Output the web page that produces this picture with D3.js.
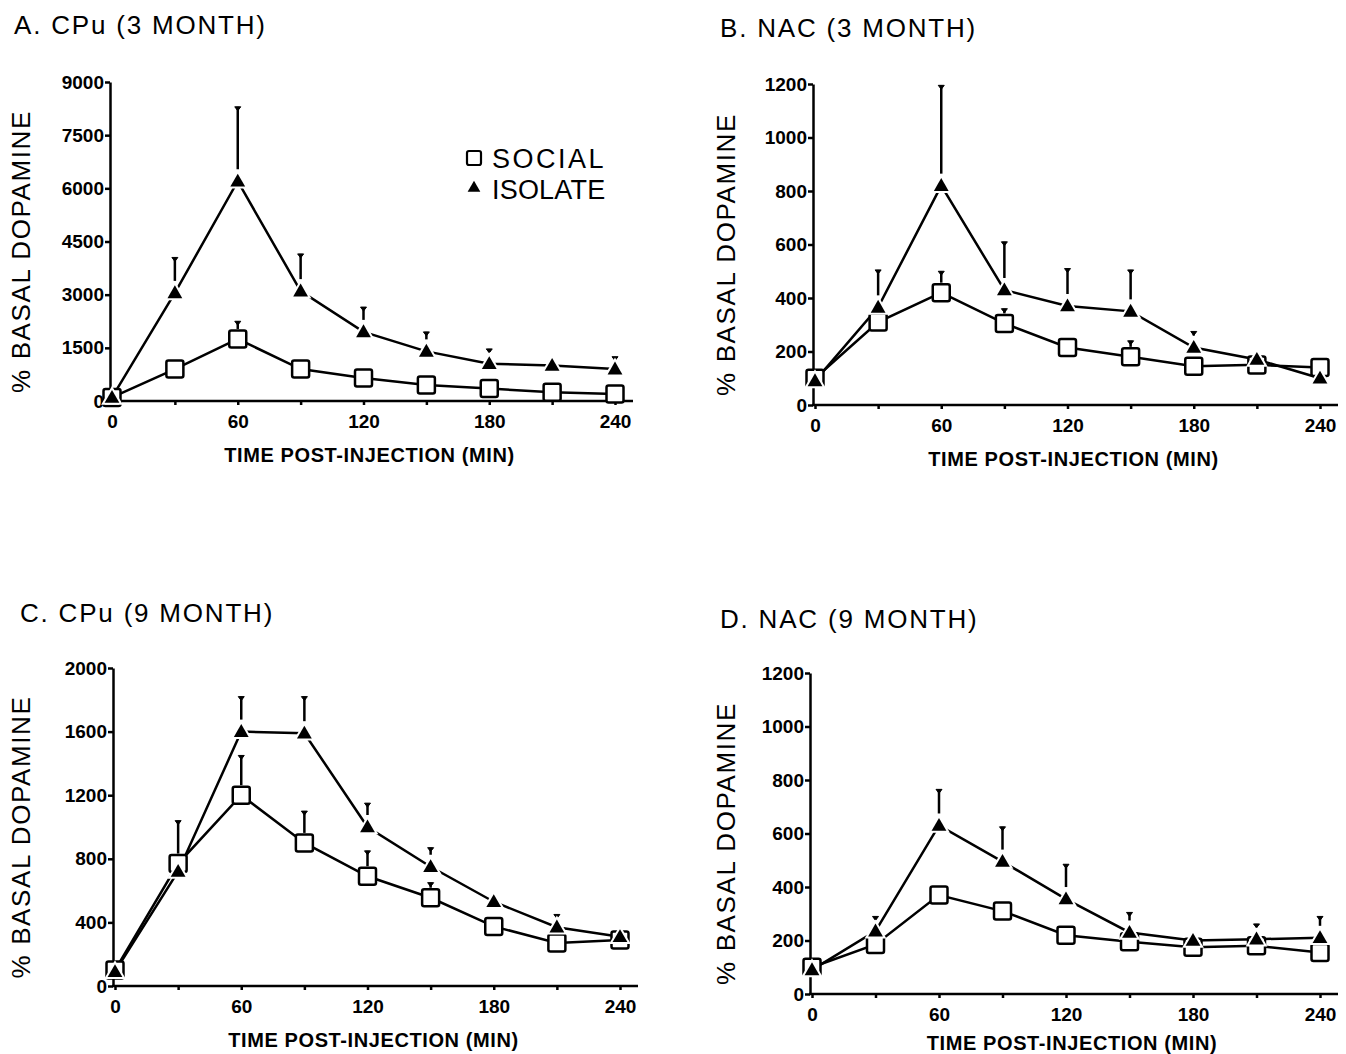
<!DOCTYPE html>
<html>
<head>
<meta charset="utf-8">
<script src="https://cdn.jsdelivr.net/npm/d3@7"></script>
<style>
  body { margin: 0; background: #fff; }
  text { font-family: "Liberation Sans", Arial, sans-serif; fill: #000; }
  .tick text { font-weight: bold; font-size: 19px; font-family: "Liberation Sans Narrow", "Liberation Sans", Arial, sans-serif; }
  .domain, .tick line { stroke: #000; stroke-width: 2.5; }
</style>
</head>
<body>
<div id="chart"></div>
<script>
var svgWidth = 1346;
var svgHeight = 1054;

// time points (min)
var times = [0, 30, 60, 90, 120, 150, 180, 210, 240];
var xTicks = [0, 60, 120, 180, 240];

// A. CPu (3 month)
var cpu3Social     = [100, 900, 1750, 900, 650, 450, 350, 250, 200];
var cpu3SocialErr  = [0, 0, 500, 0, 0, 0, 0, 0, 0];
var cpu3Isolate    = [100, 3050, 6200, 3100, 1950, 1400, 1050, 1000, 900];
var cpu3IsolateErr = [0, 1000, 2100, 1050, 700, 550, 420, 0, 350];
var cpu3Ticks = [0, 1500, 3000, 4500, 6000, 7500, 9000];

// B. NAC (3 month)
var nac3Social     = [100, 310, 420, 305, 215, 180, 145, 150, 140];
var nac3SocialErr  = [0, 0, 80, 55, 0, 60, 0, 0, 0];
var nac3Isolate    = [90, 365, 820, 430, 370, 350, 215, 170, 100];
var nac3IsolateErr = [0, 140, 375, 180, 140, 155, 60, 0, 0];
var nac3Ticks = [0, 200, 400, 600, 800, 1000, 1200];

// C. CPu (9 month)
var cpu9Social     = [100, 770, 1200, 900, 690, 555, 375, 270, 290];
var cpu9SocialErr  = [0, 270, 250, 200, 160, 95, 0, 0, 0];
var cpu9Isolate    = [90, 720, 1600, 1590, 1000, 750, 530, 370, 310];
var cpu9IsolateErr = [0, 0, 220, 230, 150, 120, 0, 80, 0];
var cpu9Ticks = [0, 400, 800, 1200, 1600, 2000];

// D. NAC (9 month)
var nac9Social     = [100, 185, 370, 310, 220, 195, 175, 180, 155];
var nac9SocialErr  = [0, 0, 0, 0, 0, 0, 0, 0, 0];
var nac9Isolate    = [90, 235, 630, 495, 355, 230, 200, 205, 210];
var nac9IsolateErr = [0, 55, 135, 130, 130, 75, 0, 57, 80];
var nac9Ticks = [0, 200, 400, 600, 800, 1000, 1200];

var svg = d3.select("#chart")
  .append("svg")
  .attr("width", svgWidth)
  .attr("height", svgHeight);

var panels = [
  { title: "A. CPu (3 MONTH)", tx: 14, ty: 34, x0: 112, x1: 615, y0: 401, y1: 82,
    ticks: cpu3Ticks, social: cpu3Social, sErr: cpu3SocialErr, iso: cpu3Isolate, iErr: cpu3IsolateErr,
    yLabelX: 30, xLabelY: 462, legend: true },
  { title: "B. NAC (3 MONTH)", tx: 720, ty: 37, x0: 815, x1: 1320, y0: 405, y1: 84,
    ticks: nac3Ticks, social: nac3Social, sErr: nac3SocialErr, iso: nac3Isolate, iErr: nac3IsolateErr,
    yLabelX: 735, xLabelY: 466 },
  { title: "C. CPu (9 MONTH)", tx: 20, ty: 622, x0: 115, x1: 620, y0: 986, y1: 668,
    ticks: cpu9Ticks, social: cpu9Social, sErr: cpu9SocialErr, iso: cpu9Isolate, iErr: cpu9IsolateErr,
    yLabelX: 30, xLabelY: 1047 },
  { title: "D. NAC (9 MONTH)", tx: 720, ty: 628, x0: 812, x1: 1320, y0: 994, y1: 673,
    ticks: nac9Ticks, social: nac9Social, sErr: nac9SocialErr, iso: nac9Isolate, iErr: nac9IsolateErr,
    yLabelX: 735, xLabelY: 1050 }
];

var triangle = d3.symbol().type(d3.symbolTriangle).size(95);

panels.forEach(function(p) {
  var yMax = d3.max(p.ticks);
  var xScale = d3.scaleLinear().domain([0, 240]).range([p.x0, p.x1]);
  var yScale = d3.scaleLinear().domain([0, yMax]).range([p.y0, p.y1]);

  var g = svg.append("g");

  // title
  g.append("text")
    .attr("x", p.tx)
    .attr("y", p.ty)
    .attr("font-size", "26px")
    .attr("letter-spacing", "1.8px")
    .text(p.title);

  // x axis (small ticks every 30 min, labels at 60)
  var xAxis = g.append("g")
    .attr("transform", `translate(0, ${p.y0})`)
    .call(d3.axisBottom(xScale).tickValues(times).tickSize(4).tickSizeOuter(0)
      .tickFormat(d => xTicks.indexOf(d) >= 0 ? d : ""));
  xAxis.select(".domain").attr("d", `M${p.x0 - 3},0H${p.x1 + 18}`);
  xAxis.selectAll(".tick text").attr("dy", "1.05em");

  // y axis
  var yAxis = g.append("g")
    .attr("transform", `translate(${p.x0 - 2}, 0)`)
    .call(d3.axisLeft(yScale).tickValues(p.ticks).tickSize(5).tickSizeOuter(0)
      .tickFormat(d3.format("d")));
  yAxis.selectAll(".tick text").attr("x", -6);

  // axis labels
  g.append("text")
    .attr("transform", `translate(${p.yLabelX}, ${(p.y0 + p.y1) / 2 + 10}) rotate(-90)`)
    .attr("text-anchor", "middle")
    .attr("font-size", "26px")
    .attr("letter-spacing", "1.6px")
    .text("% BASAL DOPAMINE");

  g.append("text")
    .attr("x", (p.x0 + p.x1) / 2 + 6)
    .attr("y", p.xLabelY)
    .attr("text-anchor", "middle")
    .attr("font-size", "20px")
    .attr("font-weight", "bold")
    .attr("letter-spacing", "0.6px")
    .text("TIME POST-INJECTION (MIN)");

  var line = d3.line()
    .x((d, i) => xScale(times[i]))
    .y(d => yScale(d));

  // error bars (upper only)
  function errBars(vals, errs, off) {
    var eg = g.append("g");
    vals.forEach(function(v, i) {
      if (!errs[i]) return;
      var x = xScale(times[i]);
      eg.append("line")
        .attr("x1", x).attr("x2", x)
        .attr("y1", yScale(v) - off).attr("y2", yScale(v + errs[i]))
        .attr("stroke", "#000").attr("stroke-width", 2.5);
      eg.append("path")
        .attr("d", `M${x - 3},${yScale(v + errs[i])}h6l-3,4z`)
        .attr("fill", "#000").attr("stroke", "#000").attr("stroke-width", 1);
    });
  }

  errBars(p.iso, p.iErr, 12);
  errBars(p.social, p.sErr, 10);

  // social line
  g.append("path")
    .datum(p.social)
    .attr("d", line)
    .attr("fill", "none")
    .attr("stroke", "#000")
    .attr("stroke-width", 2.5);

  // isolate line
  g.append("path")
    .datum(p.iso)
    .attr("d", line)
    .attr("fill", "none")
    .attr("stroke", "#000")
    .attr("stroke-width", 2.5);

  g.append("g")
    .selectAll("rect")
    .data(p.social)
    .enter()
    .append("rect")
    .attr("x", (d, i) => xScale(times[i]) - 8.5)
    .attr("y", d => yScale(d) - 8.5)
    .attr("width", 17)
    .attr("height", 17)
    .attr("rx", 2)
    .attr("fill", "#fff")
    .attr("stroke", "#000")
    .attr("stroke-width", 2.5);

  // triangles with a white halo so the line breaks around them
  g.append("g")
    .selectAll("path")
    .data(p.iso)
    .enter()
    .append("path")
    .attr("d", triangle)
    .attr("transform", (d, i) => `translate(${xScale(times[i])}, ${yScale(d) + 1})`)
    .attr("fill", "#000")
    .attr("stroke", "#fff")
    .attr("stroke-width", 4)
    .attr("paint-order", "stroke");

  if (p.legend) {
    var lg = g.append("g").attr("transform", "translate(474, 0)");
    lg.append("rect")
      .attr("x", -7).attr("y", 151).attr("width", 14).attr("height", 14).attr("rx", 2)
      .attr("fill", "#fff").attr("stroke", "#000").attr("stroke-width", 2.2);
    lg.append("text").attr("x", 18).attr("y", 168).attr("font-size", "27px")
      .attr("letter-spacing", "2.5px").text("SOCIAL");
    lg.append("path").attr("d", d3.symbol().type(d3.symbolTriangle).size(70))
      .attr("transform", "translate(0, 188)").attr("fill", "#000");
    lg.append("text").attr("x", 18).attr("y", 199).attr("font-size", "27px")
      .attr("letter-spacing", "0.2px").text("ISOLATE");
  }
});
</script>
</body>
</html>
